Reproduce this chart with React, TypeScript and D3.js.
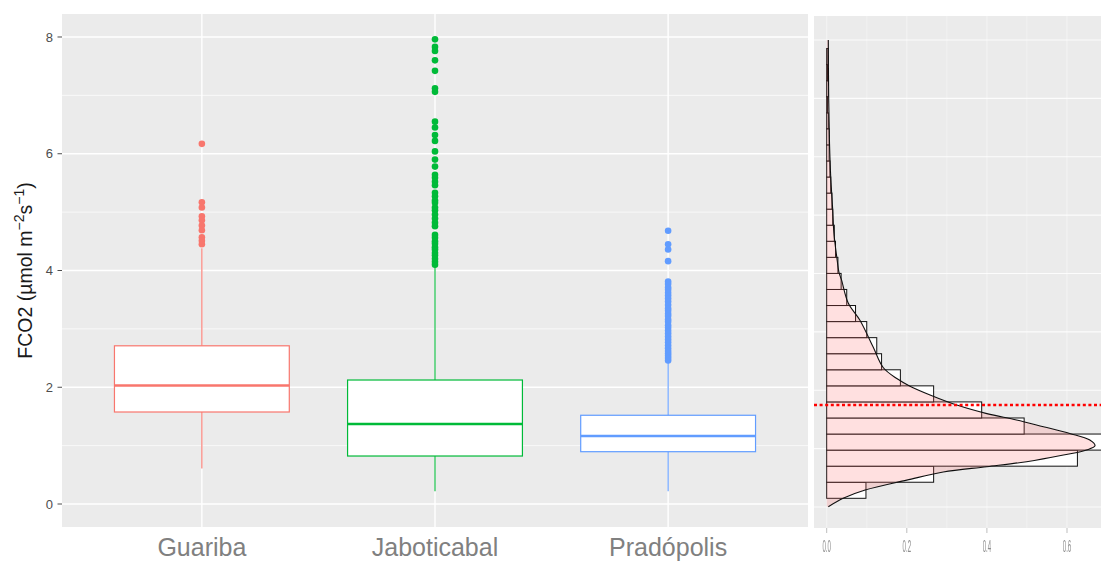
import React from "react";
import * as d3 from "d3";

// Soil CO2 flux by site
const sites = ["Guariba", "Jaboticabal", "Pradópolis"];
const siteColors = ["#F8766D", "#00BA38", "#619CFF"];
const lowerWhisker = [0.61, 0.22, 0.22];
const q1 = [1.576, 0.822, 0.896];
const median = [2.03, 1.37, 1.165];
const q3 = [2.71, 2.124, 1.52];
const upperWhisker = [4.38, 4.07, 2.43];

const outliersGuariba = [6.17, 5.17, 5.08, 4.93, 4.86, 4.77, 4.69, 4.57, 4.51, 4.45];
const outliersJaboticabal = [
  7.96, 7.83, 7.76, 7.6, 7.42, 7.12, 7.06, 6.55, 6.45, 6.32, 6.22, 6.04, 5.9, 5.78, 5.64,
  5.59, 5.52, 5.46, 5.33, 5.27, 5.2, 5.16, 5.08, 5.03, 4.96, 4.89, 4.82, 4.76, 4.61, 4.56,
  4.5, 4.46, 4.4, 4.36, 4.3, 4.26, 4.2, 4.15, 4.1,
];
const outliersPradopolis = [
  4.68, 4.45, 4.36, 4.16, 3.81, 3.77, 3.71, 3.67, 3.62, 3.57, 3.52, 3.47, 3.41, 3.35, 3.31,
  3.26, 3.22, 3.16, 3.12, 3.06, 3.02, 2.97, 2.92, 2.87, 2.82, 2.77, 2.72, 2.67, 2.62, 2.58,
  2.54, 2.5, 2.46,
];
const siteOutliers = [outliersGuariba, outliersJaboticabal, outliersPradopolis];

const yMajorTicks = [0, 2, 4, 6, 8];
const yMinorTicks = [1, 3, 5, 7];

// Pooled distribution: histogram (density scale) and kernel density
const histBinStart = 0.149;
const histBinWidth = 0.2752;
const histDensity = [
  0.098, 0.267, 0.626, 0.69, 0.493, 0.387, 0.267, 0.184, 0.137, 0.125, 0.1, 0.072, 0.05,
  0.036, 0.028, 0.022, 0.019, 0.015, 0.013, 0.01, 0.008, 0.006, 0.006, 0.004, 0.002, 0.004,
  0.002, 0.003,
];
const densityAt = [
  0.005, 0.149, 0.29, 0.46, 0.6, 0.69, 0.776, 0.89, 0.976, 1.05, 1.147, 1.26, 1.375, 1.49,
  1.6, 1.747, 1.92, 2.07, 2.2, 2.39, 2.74, 3.2, 3.49, 3.89, 4.01, 4.29, 4.69, 5.09, 5.66,
  6.23, 6.97, 8.0,
];
const densityHeight = [
  0.004, 0.041, 0.096, 0.2, 0.291, 0.4, 0.499, 0.591, 0.649, 0.67, 0.657, 0.607, 0.541, 0.474,
  0.4, 0.325, 0.258, 0.208, 0.175, 0.141, 0.116, 0.083, 0.054, 0.037, 0.031, 0.025, 0.018,
  0.015, 0.01, 0.007, 0.005, 0.004,
];
const meanFCO2 = 1.747;
const densityTicks = [0, 0.2, 0.4, 0.6];
const densityTickLabels = ["0.0", "0.2", "0.4", "0.6"];
const densityMinorGrid = [0.1, 0.3, 0.5];
const fluxGrid = [0, 1, 2, 3, 4, 5, 6, 7, 8];

const FONT = "'Liberation Sans', Arial, Helvetica, sans-serif";

export default function App() {
  // left panel
  const L = { x0: 62, x1: 808, y0: 14, y1: 527 };
  const xL = d3.scaleLinear().domain([0.4, 3.6]).range([L.x0, L.x1]);
  const yL = d3.scaleLinear().domain([-0.394, 8.394]).range([L.y1, L.y0]);
  const halfBox = 0.375;

  // right panel
  const R = { x0: 814, x1: 1101, y0: 16, y1: 528 };
  const xR = d3.scaleLinear().domain([0, 0.6]).range([826.7, 1067]);
  const yR = d3.scaleLinear().domain([0, 8]).range([507, 40]);

  const densityPts = densityAt.map((v, i) => ({ v, d: densityHeight[i] }));
  const area = d3
    .area<{ v: number; d: number }>()
    .y((p) => yR(p.v))
    .x0(xR(0))
    .x1((p) => xR(p.d))
    .curve(d3.curveCatmullRom.alpha(0.5));
  const line = d3
    .line<{ v: number; d: number }>()
    .y((p) => yR(p.v))
    .x((p) => xR(p.d))
    .curve(d3.curveCatmullRom.alpha(0.5));

  return (
    <svg
      width={1101}
      height={562}
      style={{ position: "absolute", left: 0, top: 0, background: "#fff" }}
      fontFamily={FONT}
    >
      <defs>
        <clipPath id="rclip">
          <rect x={R.x0} y={R.y0} width={R.x1 - R.x0} height={R.y1 - R.y0} />
        </clipPath>
        <filter id="soft" x="-5%" y="-5%" width="110%" height="110%">
          <feGaussianBlur stdDeviation="0.45" />
        </filter>
      </defs>

      {/* ---------- boxplot panel ---------- */}
      <rect x={L.x0} y={L.y0} width={L.x1 - L.x0} height={L.y1 - L.y0} fill="#EBEBEB" />
      {yMinorTicks.map((t) => (
        <line key={"mi" + t} x1={L.x0} x2={L.x1} y1={yL(t)} y2={yL(t)} stroke="#fff" strokeWidth={0.7} />
      ))}
      {yMajorTicks.map((t) => (
        <line key={"ma" + t} x1={L.x0} x2={L.x1} y1={yL(t)} y2={yL(t)} stroke="#fff" strokeWidth={1.4} />
      ))}
      {sites.map((s, i) => (
        <line key={"vx" + s} x1={xL(i + 1)} x2={xL(i + 1)} y1={L.y0} y2={L.y1} stroke="#fff" strokeWidth={1.4} />
      ))}

      {sites.map((s, i) => {
        const cx = xL(i + 1);
        const col = siteColors[i];
        const bx0 = xL(i + 1 - halfBox);
        const bx1 = xL(i + 1 + halfBox);
        return (
          <g key={s}>
            <line x1={cx} x2={cx} y1={yL(upperWhisker[i])} y2={yL(q3[i])} stroke={col} strokeWidth={1.1} />
            <line x1={cx} x2={cx} y1={yL(q1[i])} y2={yL(lowerWhisker[i])} stroke={col} strokeWidth={1.1} />
            <rect
              x={bx0}
              y={yL(q3[i])}
              width={bx1 - bx0}
              height={yL(q1[i]) - yL(q3[i])}
              fill="#fff"
              stroke={col}
              strokeWidth={1.2}
            />
            <line x1={bx0} x2={bx1} y1={yL(median[i])} y2={yL(median[i])} stroke={col} strokeWidth={2.6} />
            {siteOutliers[i].map((v, j) => (
              <circle key={j} cx={cx} cy={yL(v)} r={3.3} fill={col} />
            ))}
          </g>
        );
      })}

      {/* y axis */}
      {yMajorTicks.map((t) => (
        <g key={"yt" + t}>
          <line x1={57.5} x2={L.x0} y1={yL(t)} y2={yL(t)} stroke="#4d4d4d" strokeWidth={1} />
          <text x={53} y={yL(t)} dy="0.36em" textAnchor="end" fontSize={13} fill="#4d4d4d">
            {t}
          </text>
        </g>
      ))}
      <text transform={`translate(32,${(L.y0 + L.y1) / 2}) rotate(-90)`} textAnchor="middle" fontSize={19.5} fill="#1a1a1a">
        <tspan>FCO2 (µmol m</tspan>
        <tspan fontSize={14} dy={-8}>−2</tspan>
        <tspan dy={8}>s</tspan>
        <tspan fontSize={14} dy={-8}>−1</tspan>
        <tspan dy={8}>)</tspan>
      </text>

      {/* x axis labels */}
      {sites.map((s, i) => (
        <text key={"xl" + s} x={xL(i + 1)} y={556} textAnchor="middle" fontSize={25} fill="#808080">
          {s}
        </text>
      ))}

      {/* ---------- distribution panel ---------- */}
      <g filter="url(#soft)">
        <rect x={R.x0} y={R.y0} width={R.x1 - R.x0} height={R.y1 - R.y0} fill="#EBEBEB" />
        <g clipPath="url(#rclip)">
          {fluxGrid.map((t) => (
            <line key={"rg" + t} x1={R.x0} x2={R.x1} y1={yR(t)} y2={yR(t)} stroke="#fff" strokeWidth={1.1} opacity={0.85} />
          ))}
          {densityTicks.map((t) => (
            <line key={"rv" + t} x1={xR(t)} x2={xR(t)} y1={R.y0} y2={R.y1} stroke="#fff" strokeWidth={1} opacity={0.45} />
          ))}
          {densityMinorGrid.map((t) => (
            <line key={"rm" + t} x1={xR(t)} x2={xR(t)} y1={R.y0} y2={R.y1} stroke="#fff" strokeWidth={1} opacity={0.3} />
          ))}

          {histDensity.map((d, k) => {
            const lo = histBinStart + k * histBinWidth;
            const hi = lo + histBinWidth;
            return (
              <rect
                key={"h" + k}
                x={xR(0)}
                y={yR(hi)}
                width={xR(d) - xR(0)}
                height={yR(lo) - yR(hi)}
                fill="#fff"
                stroke="#111"
                strokeWidth={1}
              />
            );
          })}

          <path d={area(densityPts) || ""} fill="#FF6666" fillOpacity={0.2} stroke="none" />
          <path d={line(densityPts) || ""} fill="none" stroke="#111" strokeWidth={1.1} />

          <line
            x1={R.x0}
            x2={R.x1}
            y1={yR(meanFCO2)}
            y2={yR(meanFCO2)}
            stroke="#ff0000"
            strokeWidth={2.6}
            strokeDasharray="3 2.6"
          />
        </g>

        {densityTicks.map((t, i) => (
          <g key={"dt" + t}>
            <line x1={xR(t)} x2={xR(t)} y1={R.y1} y2={R.y1 + 5} stroke="#bdbdbd" strokeWidth={1} />
            <text
              transform={`translate(${xR(t)},552) scale(0.38,1)`}
              textAnchor="middle"
              fontSize={16}
              fill="#8c8c8c"
            >
              {densityTickLabels[i]}
            </text>
          </g>
        ))}
      </g>
    </svg>
  );
}
